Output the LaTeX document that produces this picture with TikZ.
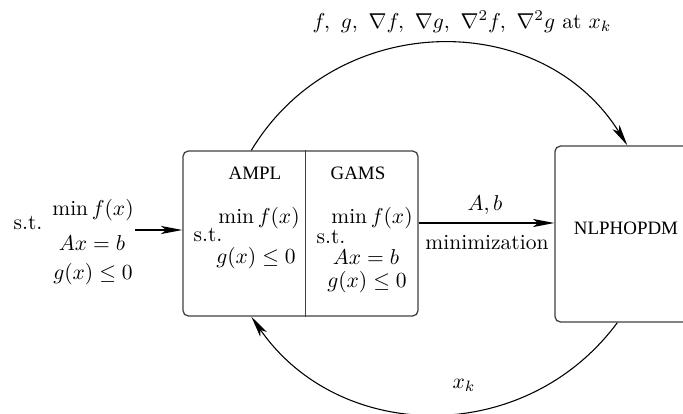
\documentclass[tikz,border=0pt]{standalone}
\usepackage{fontspec}
\newfontfamily\tms{Liberation Serif}
\usetikzlibrary{arrows.meta}
\begin{document}
\begin{tikzpicture}[x=0.465pt,y=0.465pt,
  box/.style={draw=black!75, line width=0.6pt, rounded corners=2.5pt, inner sep=0pt},
  arr/.style={-{Stealth[length=10pt,width=3.8pt,inset=2.5pt]}, line width=0.5pt},
  txt/.style={inner sep=0pt, font=\tms\fontsize{8.8}{10}\selectfont},
  lbl/.style={inner sep=0pt}]
\useasboundingbox (0,0) rectangle (683,-414);
\clip (0,0) rectangle (683,-414);
% boxes
\node[box, minimum width=109.3pt, minimum height=76.7pt] (L) at (300.5,-233.5) {};
\node[box, minimum width=74.4pt, minimum height=81.8pt] (R) at (635,-234) {};
\draw[draw=black!75, line width=0.6pt] ([xshift=123*0.465pt]L.north west) -- ([xshift=123*0.465pt]L.south west);
% box texts
\node[txt] (ampl) at (255,-173) {AMPL};
\node[txt] (gams) at (358,-173) {GAMS};
\node[txt] (nlp) at (626,-228) {NLPHOPDM};
% AMPL column
\node[lbl] (m1) at (259,-218) {$\min f(x)$};
\node[lbl] (s1) at (208,-235) {s.t.};
\node[lbl] (g1) at (256,-258) {$g(x)\le 0$};
% GAMS column
\node[lbl] (m2) at (372,-218) {$\min f(x)$};
\node[lbl] (s2) at (331,-237) {s.t.};
\node[lbl] (a2) at (366,-257) {$Ax=b$};
\node[lbl] (g2) at (367,-282) {$g(x)\le 0$};
% left input problem
\node[lbl] (s0) at (28,-223) {s.t.};
\node[lbl] (m0) at (93,-210) {$\min f(x)$};
\node[lbl] (a0) at (92,-243) {$Ax=b$};
\node[lbl] (g0) at (93,-274) {$g(x)\le 0$};
\coordinate (inS) at (135,-230);
\draw[arr] (inS) -- (L.west |- inS);
% middle arrow
\coordinate (mid) at (0,-223);
\draw[arr] (L.east |- mid) -- (R.west |- mid);
\node[lbl] (ab) at (485,-205) {$A,b$};
\node[lbl] (mn) at (487,-243) {minimization};
% top arc
\draw[arr] ([xshift=69*0.465pt]L.north west) to[out=59,in=122,looseness=1.11] ([xshift=73*0.465pt]R.north west);
\node[lbl] (top) at (462,-22) {$f,\ g,\ \nabla f,\ \nabla g,\ \nabla^2 f,\ \nabla^2 g$ at $x_k$};
% bottom arc
\draw[arr] ([xshift=63*0.465pt]R.south west) to[out=233.5,in=304.7,looseness=1.08] ([xshift=69*0.465pt]L.south west);
\node[lbl] (xk) at (464,-385) {$x_k$};
\end{tikzpicture}
\end{document}
